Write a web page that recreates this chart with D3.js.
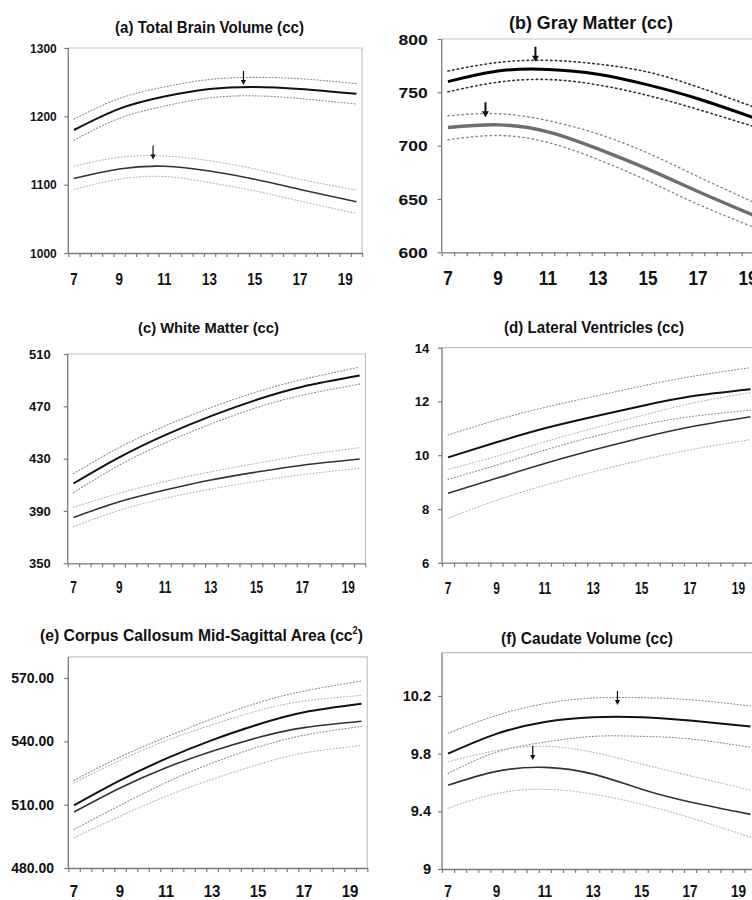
<!DOCTYPE html>
<html>
<head>
<meta charset="utf-8">
<script src="https://cdn.jsdelivr.net/npm/d3@7"></script>
<style>
  body { margin: 0; background: #fff; }
  svg { display: block; font-family: "Liberation Sans", Arial, sans-serif; font-weight: bold; }
</style>
</head>
<body>
<svg id="chart" width="752" height="900"></svg>
<script>
var ages = [7, 9, 11, 13, 15, 17, 19.5];
var xLabels = [7, 9, 11, 13, 15, 17, 19];

// (a) total brain volume
var tbvBoys    = [1180, 1211, 1229, 1240, 1243, 1240, 1233];
var tbvBoysHi  = [1196, 1226, 1243, 1254, 1257, 1255, 1248];
var tbvBoysLo  = [1165, 1197, 1215, 1227, 1230, 1226, 1218];
var tbvGirls   = [1109, 1123, 1127, 1120, 1108, 1093, 1075];
var tbvGirlsHi = [1127, 1140, 1142, 1135, 1123, 1108, 1092];
var tbvGirlsLo = [1093, 1108, 1112, 1103, 1091, 1076, 1058];
var tbvTicks = [1000, 1100, 1200, 1300];
var tbvArrowAge = [14.5, 10.5];
var tbvArrowTip = [1246, 1137];

// (b) gray matter
var gmBoys    = [760, 770, 771.5, 767, 757, 744, 724];
var gmBoysHi  = [770, 778, 780, 776.5, 769, 755, 734];
var gmBoysLo  = [750.5, 759.5, 762, 757, 747, 734, 716];
var gmGirls   = [717, 719.5, 713, 697, 678, 657, 632];
var gmGirlsHi = [728, 730, 723.5, 711, 693, 671, 644];
var gmGirlsLo = [705.5, 709.5, 703, 687, 667, 645, 621];
var gmTicks = [600, 650, 700, 750, 800];
var gmArrowAge = [10.5, 8.5];
var gmArrowTip = [778.7, 726.6];

// (c) white matter
var wmBoys    = [411, 431, 448, 462.5, 475, 485, 493.5];
var wmBoysHi  = [418.5, 438.5, 455, 469, 481, 490.5, 500];
var wmBoysLo  = [404, 425, 442, 456.5, 469, 478.5, 487];
var wmGirls   = [385, 397, 406, 413.7, 419.8, 425, 429.7];
var wmGirlsHi = [392.8, 403.5, 412.5, 420, 426.4, 432.5, 438.4];
var wmGirlsLo = [378, 390.5, 399.7, 406.8, 412.6, 417.8, 422.6];
var wmTicks = [350, 390, 430, 470, 510];

// (d) lateral ventricles
var lvBoys    = [9.92, 10.48, 11.0, 11.43, 11.83, 12.18, 12.45];
var lvBoysHi  = [10.75, 11.31, 11.78, 12.18, 12.57, 12.92, 13.26];
var lvBoysLo  = [9.1, 9.63, 10.19, 10.69, 11.12, 11.43, 11.68];
var lvGirls   = [8.58, 9.14, 9.69, 10.19, 10.65, 11.05, 11.43];
var lvGirlsHi = [9.47, 9.96, 10.5, 11.0, 11.47, 11.92, 12.33];
var lvGirlsLo = [7.65, 8.32, 8.88, 9.38, 9.82, 10.2, 10.58];
var lvTicks = [6, 8, 10, 12, 14];

// (e) corpus callosum
var ccBoys    = [509.7, 521.5, 531.8, 540.6, 548, 553.8, 557.8];
var ccBoysHi  = [521.5, 532.6, 542, 550.7, 558.3, 563.8, 568.6];
var ccBoysLo  = [498.3, 509.7, 520.5, 529.7, 537.3, 542.9, 547.1];
var ccGirls   = [506.5, 517.9, 527.5, 535.3, 541.8, 546.5, 549.5];
var ccGirlsHi = [520.3, 531, 540.3, 547.8, 554.5, 559.1, 561.8];
var ccGirlsLo = [494.4, 504.5, 514, 522, 529, 534.5, 538];
var ccTicks = [480, 510, 540, 570];

// (f) caudate
var cdBoys    = [9.80, 9.937, 10.02, 10.053, 10.053, 10.03, 9.988];
var cdBoysHi  = [9.942, 10.065, 10.147, 10.186, 10.188, 10.174, 10.13];
var cdBoysLo  = [9.663, 9.81, 9.88, 9.92, 9.92, 9.902, 9.844];
var cdGirls   = [9.581, 9.677, 9.705, 9.658, 9.553, 9.465, 9.379];
var cdGirlsHi = [9.744, 9.821, 9.851, 9.809, 9.728, 9.647, 9.547];
var cdGirlsLo = [9.421, 9.523, 9.553, 9.519, 9.449, 9.356, 9.221];
var cdTicks = [9, 9.4, 9.8, 10.2];
var cdArrowAge = [14, 10.5];
var cdArrowTip = [10.137, 9.756];

// line looks, reused across panels
var thin = {
  boys:   {c: "#111", w: 2},
  girls:  {c: "#333", w: 1.6},
  boysCI: {c: "#8a8a8a", w: 1.1, dash: "1,2.2"},
  girlsCI:{c: "#b4b4b4", w: 1.1, dash: "1,2.2"}
};
var thick = {
  boys:   {c: "#000", w: 3},
  girls:  {c: "#6e6e6e", w: 3.4},
  boysCI: {c: "#333", w: 1.6, dash: "1.5,3.2"},
  girlsCI:{c: "#888", w: 1.4, dash: "1.5,3.2"}
};

var panels = [
  {title: "(a) Total Brain Volume (cc)", tw: 189, ts: 16, tx: 209.5, ty: 32.5,
   s: [tbvBoys, tbvBoysHi, tbvBoysLo, tbvGirls, tbvGirlsHi, tbvGirlsLo],
   yd: [1000, 1300], yt: tbvTicks, fmt: d3.format("d"),
   left: 68.3, top: 48, bottom: 253, cat: 11.3,
   ylf: 13, ysx: 0.92, ygap: 11.6, xlf: 16, xsx: 0.84, xoff: 32,
   arrowAge: tbvArrowAge, arrowTip: tbvArrowTip, arrowW: 1.2, arrowLen: 14, look: thin},
  {title: "(b) Gray Matter (cc)", tw: 164, ts: 18, tx: 591, ty: 29,
   s: [gmBoys, gmBoysHi, gmBoysLo, gmGirls, gmGirlsHi, gmGirlsLo],
   yd: [600, 800], yt: gmTicks, fmt: d3.format("d"),
   left: 441.7, top: 39, bottom: 252.3, cat: 12.5,
   ylf: 15.5, ysx: 1.13, ygap: 14, xlf: 20, xsx: 0.86, xoff: 33,
   arrowAge: gmArrowAge, arrowTip: gmArrowTip, arrowW: 2, arrowLen: 15, look: thick},
  {title: "(c) White Matter (cc)", tw: 141, ts: 15, tx: 208.5, ty: 333.3,
   s: [wmBoys, wmBoysHi, wmBoysLo, wmGirls, wmGirlsHi, wmGirlsLo],
   yd: [350, 510], yt: wmTicks, fmt: d3.format("d"),
   left: 67.7, top: 354, bottom: 563.3, cat: 11.45,
   ylf: 13, ysx: 1, ygap: 17, xlf: 16, xsx: 0.74, xoff: 30,
   arrowAge: [], arrowTip: [], look: thin},
  {title: "(d) Lateral Ventricles (cc)", tw: 180, ts: 16, tx: 594, ty: 333.3,
   s: [lvBoys, lvBoysHi, lvBoysLo, lvGirls, lvGirlsHi, lvGirlsLo],
   yd: [6, 14], yt: lvTicks, fmt: d3.format("d"),
   left: 442, top: 347.7, bottom: 562.7, cat: 12.1,
   ylf: 13.5, ysx: 0.97, ygap: 12.7, xlf: 17, xsx: 0.7, xoff: 31,
   arrowAge: [], arrowTip: [], look: thin},
  {title: "(e) Corpus Callosum Mid-Sagittal Area (cc", sup: "2", tw: 323, ts: 17, tx: 201.5, ty: 640.7,
   s: [ccBoys, ccBoysHi, ccBoysLo, ccGirls, ccGirlsHi, ccGirlsLo],
   yd: [480, 580], yt: ccTicks, fmt: d3.format(".2f"),
   left: 68.3, top: 656.9, bottom: 868, cat: 11.5,
   ylf: 14, ysx: 1, ygap: 14.3, xlf: 16, xsx: 0.94, xoff: 29,
   arrowAge: [], arrowTip: [], look: thin},
  {title: "(f) Caudate Volume (cc)", tw: 172, ts: 16, tx: 587, ty: 644.3,
   s: [cdBoys, cdBoysHi, cdBoysLo, cdGirls, cdGirlsHi, cdGirlsLo],
   yd: [9, 10.5], yt: cdTicks, fmt: function(d){ return d3.format("~g")(d); },
   left: 442, top: 652.7, bottom: 869, cat: 12.1,
   ylf: 14, ysx: 1.04, ygap: 11, xlf: 17, xsx: 0.8, xoff: 28,
   arrowAge: cdArrowAge, arrowTip: cdArrowTip, arrowW: 1.2, arrowLen: 14, look: thin}
];

var svg = d3.select("#chart");
svg.append("rect").attr("width", 752).attr("height", 900).attr("fill", "#fff");

panels.forEach(function(p) {
  var right = p.left + 26 * p.cat;
  var x = d3.scaleLinear().domain([6.75, 19.75]).range([p.left, right]);
  var y = d3.scaleLinear().domain(p.yd).range([p.bottom, p.top]);
  var g = svg.append("g");

  // plot frame (top + right)
  g.append("path")
    .attr("d", "M" + p.left + "," + p.top + "H" + right + "V" + p.bottom)
    .attr("fill", "none").attr("stroke", "#c4c4c4").attr("stroke-width", 1.2);

  // title, squeezed to the width seen in the picture
  var t = g.append("text")
    .attr("text-anchor", "middle")
    .style("font-size", p.ts + "px")
    .attr("fill", "#111");
  if (p.sup) {
    t.append("tspan").text(p.title);
    t.append("tspan").attr("dy", -7).style("font-size", "10px").text(p.sup);
    t.append("tspan").attr("dy", 7).text(")");
  } else {
    t.text(p.title);
  }
  var len = t.node().getComputedTextLength();
  t.attr("transform", "translate(" + p.tx + "," + p.ty + ") scale(" + (p.tw / len) + ",1)");

  // y axis
  var ya = g.append("g").attr("transform", "translate(" + p.left + ",0)")
    .call(d3.axisLeft(y).tickValues(p.yt).tickSize(4).tickSizeOuter(0).tickFormat(""));
  ya.select(".domain").attr("stroke", "#7a7a7a").attr("stroke-width", 1.3)
    .attr("d", "M0," + p.bottom + "V" + p.top);
  ya.selectAll(".tick line").attr("stroke", "#7a7a7a").attr("stroke-width", 1.2);
  g.selectAll(".ylab").data(p.yt).enter().append("text")
    .attr("transform", function(d) { return "translate(" + (p.left - p.ygap) + "," + y(d) + ") scale(" + p.ysx + ",1)"; })
    .attr("dy", "0.36em").attr("text-anchor", "end")
    .style("font-size", p.ylf + "px").attr("fill", "#111")
    .text(p.fmt);

  // x axis: ticks on category boundaries, labels every 2 years
  var bounds = d3.range(0, 27).map(function(i) { return 6.75 + i * 0.5; });
  var xa = g.append("g").attr("transform", "translate(0," + p.bottom + ")")
    .call(d3.axisBottom(x).tickValues(bounds).tickSize(4).tickSizeOuter(0).tickFormat(""));
  xa.select(".domain").attr("stroke", "#7a7a7a").attr("stroke-width", 1.3);
  xa.selectAll(".tick line").attr("stroke", "#7a7a7a").attr("stroke-width", 1.2);
  g.selectAll(".xlab").data(xLabels).enter().append("text")
    .attr("transform", function(d) { return "translate(" + x(d) + "," + (p.bottom + p.xoff) + ") scale(" + p.xsx + ",1)"; })
    .attr("text-anchor", "middle")
    .style("font-size", p.xlf + "px").attr("fill", "#111")
    .text(function(d) { return d; });

  // curves
  var line = d3.line()
    .x(function(d, i) { return x(ages[i]); })
    .y(function(d) { return y(d); })
    .curve(d3.curveNatural);
  var looks = [p.look.boysCI, p.look.boysCI, p.look.girlsCI, p.look.girlsCI, p.look.girls, p.look.boys];
  var order = [1, 2, 4, 5, 3, 0];
  order.forEach(function(k, j) {
    var st = looks[j];
    g.append("path")
      .attr("d", line(p.s[k]))
      .attr("fill", "none")
      .attr("stroke", st.c)
      .attr("stroke-width", st.w)
      .attr("stroke-dasharray", st.dash || null)
      .attr("stroke-linecap", st.dash ? "round" : "butt");
  });

  // peak arrows
  p.arrowAge.forEach(function(a, i) {
    var ax = x(a), ty = y(p.arrowTip[i]);
    var hw = p.arrowW > 1.5 ? 3.5 : 2.6, hh = p.arrowW > 1.5 ? 6 : 5;
    g.append("line")
      .attr("x1", ax).attr("x2", ax)
      .attr("y1", ty - p.arrowLen).attr("y2", ty - hh + 1)
      .attr("stroke", "#111").attr("stroke-width", p.arrowW);
    g.append("path")
      .attr("d", "M" + (ax - hw) + "," + (ty - hh) + "L" + (ax + hw) + "," + (ty - hh) + "L" + ax + "," + ty + "Z")
      .attr("fill", "#111");
  });
});
</script>
</body>
</html>
